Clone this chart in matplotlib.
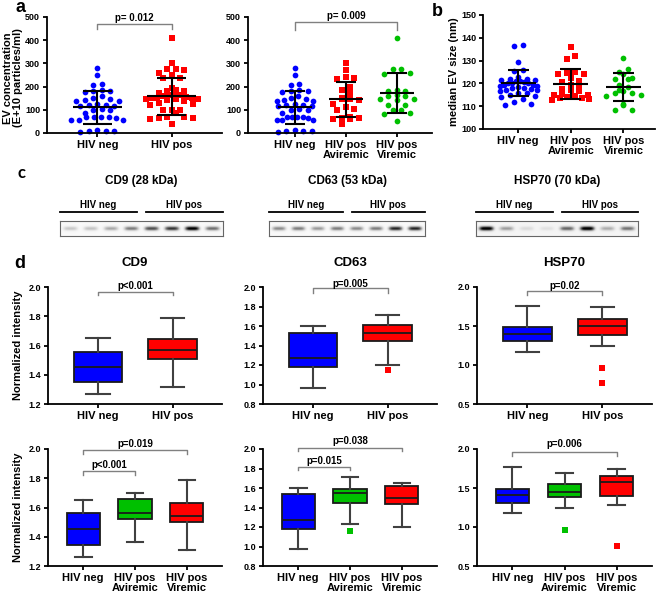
import numpy as np
import matplotlib
matplotlib.use("Agg")
from matplotlib import pyplot as plt
from matplotlib.lines import Line2D

plt.rcParams['font.family'] = ['Liberation Sans', 'DejaVu Sans']
plt.rcParams['font.weight'] = 'bold'

W, H = 660, 597
BLUE, RED, GREEN = '#0000ff', '#ff0000', '#00c000'

labels2 = ['HIV neg', 'HIV pos']
labels3 = ['HIV neg', 'HIV pos\nAviremic', 'HIV pos\nViremic']

# panel a: EV concentration (E+10 particles/ml)
conc_neg = [280, 250, 210, 205, 185, 180, 182, 175, 160, 150, 145, 142, 140, 140, 125, 122,
            120, 118, 115, 105, 100, 100, 85, 70, 68, 67, 65, 68, 58, 55, 55, 12, 10, 8, 10, 5]
conc_pos = [409, 301, 277, 275, 272, 260, 251, 239, 236, 196, 186, 182, 180, 172, 168, 165,
            165, 160, 155, 152, 150, 150, 148, 147, 145, 142, 140, 128, 125, 122, 100, 100,
            98, 85, 70, 68, 66, 65, 62, 38]
conc_avir = [300, 270, 240, 236, 232, 197, 186, 171, 150, 148, 145, 143, 125, 110, 104, 100,
             68, 65, 63, 62, 60, 38]
conc_vir = [408, 277, 275, 258, 255, 185, 180, 182, 162, 160, 158, 147, 145, 142, 120, 120,
            100, 98, 85, 82, 53]
conc_mean2 = [110, 158]
conc_sd2 = [71, 80]
conc_mean3 = [110, 145, 172]
conc_sd3 = [71, 75, 85]

# panel b: median EV size (nm)
size_neg = [137, 136.5, 129.5, 126, 125.5, 123, 122, 122, 121.5, 121.5, 121, 121, 120.5, 120,
            120, 120, 119.5, 119.5, 119, 119, 118.5, 118, 118, 117.5, 117, 117, 116.5, 116,
            116, 115, 114.5, 114, 113, 112, 111, 110.7]
size_avir = [136, 131.8, 130.8, 125, 124.5, 124.2, 124, 122.5, 121, 120.5, 119.5, 118.5,
             117.5, 117, 116.5, 115.5, 115, 115, 114.5, 114, 113.5, 113.5, 113, 112.5]
size_vir = [131, 126.5, 124.8, 124, 122.5, 122, 121.8, 119.5, 118.5, 117, 116.5, 116, 116,
            115, 114.5, 111, 110.5, 108.2, 108.5]
size_mean = [120.1, 119.8, 118.3]
size_sd = [5.8, 6.5, 6.2]

# panel c: band intensity per lane (4 HIV neg, 4 HIV pos)
band_cd9 = [0.28, 0.3, 0.4, 0.55, 0.72, 0.8, 1.0, 0.6]
band_cd63 = [0.5, 0.55, 0.45, 0.55, 0.5, 0.55, 0.85, 0.85]
band_hsp70 = [1.0, 0.4, 0.15, 0.12, 0.6, 1.0, 0.35, 0.55]

# panel d: box stats [whislo, q1, med, q3, whishi]
cd9_two = [[1.27, 1.348, 1.453, 1.558, 1.649], [1.314, 1.510, 1.569, 1.644, 1.786]]
cd63_two = [[0.968, 1.18, 1.27, 1.527, 1.599], [1.205, 1.448, 1.527, 1.606, 1.709]]
hsp70_two = [[1.171, 1.308, 1.394, 1.489, 1.759], [1.248, 1.385, 1.506, 1.596, 1.746]]
cd9_three = [[1.264, 1.345, 1.453, 1.559, 1.65], [1.363, 1.522, 1.565, 1.657, 1.701],
             [1.308, 1.499, 1.545, 1.63, 1.789]]
cd63_three = [[0.971, 1.184, 1.273, 1.534, 1.599], [1.232, 1.448, 1.544, 1.585, 1.715],
              [1.205, 1.431, 1.499, 1.623, 1.647]]
hsp70_three = [[1.175, 1.312, 1.411, 1.484, 1.764], [1.248, 1.385, 1.45, 1.557, 1.69],
               [1.278, 1.403, 1.574, 1.66, 1.746]]
cd9_two_out = [[], []]
cd63_two_out = [[], [1.153]]
hsp70_two_out = [[], [0.96, 0.766]]
cd9_three_out = [[], [], []]
cd63_three_out = [[], [1.157], []]
hsp70_three_out = [[], [0.964], [0.762]]

fig = plt.figure(figsize=(6.6, 5.97), dpi=100)


def fy(py):
    return 1 - py / H


def add_ax(x0, y0, x1, y1):
    return fig.add_axes([x0 / W, 1 - y1 / H, (x1 - x0) / W, (y1 - y0) / H])


def style(ax, xlabels, xlim, ylim, yticks, fmt):
    ax.spines[['top', 'right']].set_visible(False)
    ax.spines[['left', 'bottom']].set_linewidth(1.3)
    ax.set_xlim(xlim)
    ax.set_ylim(ylim)
    ax.set_xticks(range(len(xlabels)))
    ax.set_xticklabels(xlabels, fontsize=8, linespacing=1.0)
    ax.set_yticks(yticks)
    ax.set_yticklabels([fmt.format(t) for t in yticks], fontsize=6.5)
    ax.tick_params(width=1.3, length=3, pad=2)


def bracket(ax, x0, x1, y, drop, text, ty, fs=7):
    ax.plot([x0, x0, x1, x1], [y - drop, y, y, y - drop], color='#808080', lw=1, clip_on=False)
    ax.text((x0 + x1) / 2, ty, text, ha='center', va='center', fontsize=fs, clip_on=False)


def rows(vals, ypx, xpx, d=5.5, gap=8.5, wfrac=0.7):
    # prism-like column scatter: points grouped in rows, spread across the column
    vals = np.asarray(vals, float)
    offs = np.zeros(len(vals))
    groups = []
    for i in np.argsort(vals):
        if groups and (vals[i] - vals[groups[-1][0]]) * ypx < d:
            groups[-1].append(i)
        else:
            groups.append([i])
    for g in groups:
        n = len(g)
        step = min(gap, wfrac * xpx / max(n - 1, 1))
        # alternate left/right so rows are not tilted
        g = g[::2] + g[1::2][::-1]
        for j, i in enumerate(g):
            offs[i] = (j - (n - 1) / 2) * step / xpx
    return offs


def dots(ax, groups, means, sds, colors, markers, ypx, xpx):
    for i, (vals, m, sd, c, mk) in enumerate(zip(groups, means, sds, colors, markers)):
        off = rows(vals, ypx, xpx)
        ax.scatter(i + off, vals, s=17 if mk == 'o' else 14, c=c, marker=mk, lw=0,
                   zorder=2, clip_on=False)
        ax.hlines(m, i - 0.33, i + 0.33, color='k', lw=1.5, zorder=3)
        ax.vlines(i, m - sd, m + sd, color='k', lw=1.5, zorder=3)
        ax.hlines([m - sd, m + sd], i - 0.2, i + 0.2, color='k', lw=1.5, zorder=3)


def boxes(ax, stats5, fliers, colors, width, capw):
    st = [dict(whislo=s[0], q1=s[1], med=s[2], q3=s[3], whishi=s[4], fliers=f)
          for s, f in zip(stats5, fliers)]
    bp = ax.bxp(st, positions=range(len(st)), widths=width, capwidths=capw,
                patch_artist=True, manage_ticks=False,
                boxprops=dict(edgecolor='#1a1a1a', linewidth=1.3),
                medianprops=dict(color='#1a1a1a', linewidth=1.3),
                whiskerprops=dict(color='#404040', linewidth=1.5),
                capprops=dict(color='#404040', linewidth=1.5),
                flierprops=dict(marker='s', markersize=4.2, markeredgewidth=0))
    for patch, c in zip(bp['boxes'], colors):
        patch.set_facecolor(c)
    for fl, c in zip(bp['fliers'], colors):
        fl.set_markerfacecolor(c)


def blot(x0, x1, y0, y1, levels, bg, title):
    ax = add_ax(x0, y0, x1, y1)
    n = len(levels)
    X, Y = np.meshgrid(np.linspace(0, n, 240), np.linspace(-1, 1, 40))
    img = np.full_like(X, bg)
    for i, v in enumerate(levels):
        img += v * np.exp(-((X - i - 0.5) / 0.36) ** 4) * np.exp(-(Y / 0.3) ** 2)
    ax.imshow(np.clip(img, 0, 1), cmap='Greys', vmin=0, vmax=1, aspect='auto',
              extent=(0, n, -1, 1), interpolation='bilinear')
    ax.set_xticks([])
    ax.set_yticks([])
    for s in ax.spines.values():
        s.set_color('#666666')
        s.set_linewidth(0.8)
    xm = (x0 + x1) / 2
    for (a, b), lab in zip([(x0, xm - 4.5), (xm + 4.5, x1)], labels2):
        fig.add_artist(Line2D([a / W, b / W], [fy(212)] * 2, color='k', lw=1.3))
        fig.text((a + b) / 2 / W, fy(210.5), lab, ha='center', va='bottom', fontsize=7,
                 family=['Liberation Sans Narrow', 'Liberation Sans'])
    fig.text(xm / W, fy(181), title, ha='center', va='center', fontsize=8.5)


# ---- panel a
ax = add_ax(47, 17, 222, 133)
style(ax, labels2, (-0.68, 1.68), (0, 500), range(0, 501, 100), '{:d}')
dots(ax, [conc_neg, conc_pos], conc_mean2, conc_sd2, [BLUE, RED], ['o', 's'], 116 / 500, 74)
bracket(ax, 0, 1, 471, 23, 'p= 0.012', 497)
fig.text(13 / W, fy(78), 'EV concentration\n(E+10 particles/ml)', rotation=90,
         ha='center', va='center', fontsize=8, linespacing=1.05)

ax = add_ax(248, 17, 432, 133)
style(ax, labels3, (-0.92, 2.69), (0, 500), range(0, 501, 100), '{:d}')
dots(ax, [conc_neg, conc_avir, conc_vir], conc_mean3, conc_sd3, [BLUE, RED, GREEN],
     ['o', 's', 'o'], 116 / 500, 51)
bracket(ax, 0, 2, 477, 32, 'p= 0.009', 504)

# ---- panel b
ax = add_ax(483, 15, 655, 129)
style(ax, labels3, (-0.67, 2.6), (100, 150), range(100, 151, 10), '{:d}')
dots(ax, [size_neg, size_avir, size_vir], size_mean, size_sd, [BLUE, RED, GREEN],
     ['o', 's', 'o'], 114 / 50, 52)
fig.text(454 / W, fy(72), 'median EV size (nm)', rotation=90, ha='center', va='center',
         fontsize=8)

# ---- panel c
blot(60, 223, 221, 236, band_cd9, 0.05, 'CD9 (28 kDa)')
blot(269, 425, 221, 236, band_cd63, 0.05, 'CD63 (53 kDa)')
blot(476, 638, 221, 236, band_hsp70, 0.09, 'HSP70 (70 kDa)')

# ---- panel d
top = [(48, 222), (263, 437), (477, 652)]
two = [(cd9_two, cd9_two_out, (1.2, 2.0), np.arange(1.2, 2.01, 0.2), 'CD9',
        (1.966, 0.021, 'p<0.001', 2.01)),
       (cd63_two, cd63_two_out, (0.8, 2.0), np.arange(0.8, 2.01, 0.2), 'CD63',
        (1.99, 0.05, 'p=0.005', 2.03)),
       (hsp70_two, hsp70_two_out, (0.5, 2.0), np.arange(0.5, 2.01, 0.5), 'HSP70',
        (1.95, 0.05, 'p=0.02', 2.01))]
for (x0, x1), (st, fl, ylim, yt, name, br) in zip(top, two):
    ax = add_ax(x0, 287, x1, 404)
    style(ax, labels2, (-0.67, 1.66), ylim, yt, '{:.1f}')
    boxes(ax, st, fl, [BLUE, RED], 0.65, 0.31)
    bracket(ax, 0, 1, br[0], br[1], br[2], br[3])
    fig.text((x0 + x1) / 2 / W, fy(263), name, ha='center', va='center', fontsize=9.5)

three = [(cd9_three, cd9_three_out, (1.2, 2.0), np.arange(1.2, 2.01, 0.2),
          [(0, 2, 1.99, 0.024, 'p=0.019', 2.036), (0, 1, 1.85, 0.03, 'p<0.001', 1.89)]),
         (cd63_three, cd63_three_out, (0.8, 2.0), np.arange(0.8, 2.01, 0.2),
          [(0, 2, 2.013, 0.035, 'p=0.038', 2.085), (0, 1, 1.818, 0.036, 'p=0.015', 1.874)]),
         (hsp70_three, hsp70_three_out, (0.5, 2.0), np.arange(0.5, 2.01, 0.5),
          [(0, 2, 1.965, 0.05, 'p=0.006', 2.064)])]
for (x0, x1), (st, fl, ylim, yt, brs) in zip(top, three):
    ax = add_ax(x0, 449, x1, 566)
    style(ax, labels3, (-0.68, 2.68), ylim, yt, '{:.1f}')
    boxes(ax, st, fl, [BLUE, GREEN, RED], 0.64, 0.32)
    for b in brs:
        bracket(ax, b[0], b[1], b[2], b[3], b[4], b[5])

for yc in (345, 507):
    fig.text(18 / W, fy(yc), 'Normalized intensity', rotation=90, ha='center', va='center',
             fontsize=8)

# panel letters
fig.text(21 / W, fy(8), 'a', ha='center', va='center', fontsize=13)
fig.text(437 / W, fy(11), 'b', ha='center', va='center', fontsize=13)
fig.text(22 / W, fy(173), 'c', ha='center', va='center', fontsize=12, family=['Lato'])
fig.text(20 / W, fy(263), 'd', ha='center', va='center', fontsize=13)

fig.savefig('out.png', dpi=100)
